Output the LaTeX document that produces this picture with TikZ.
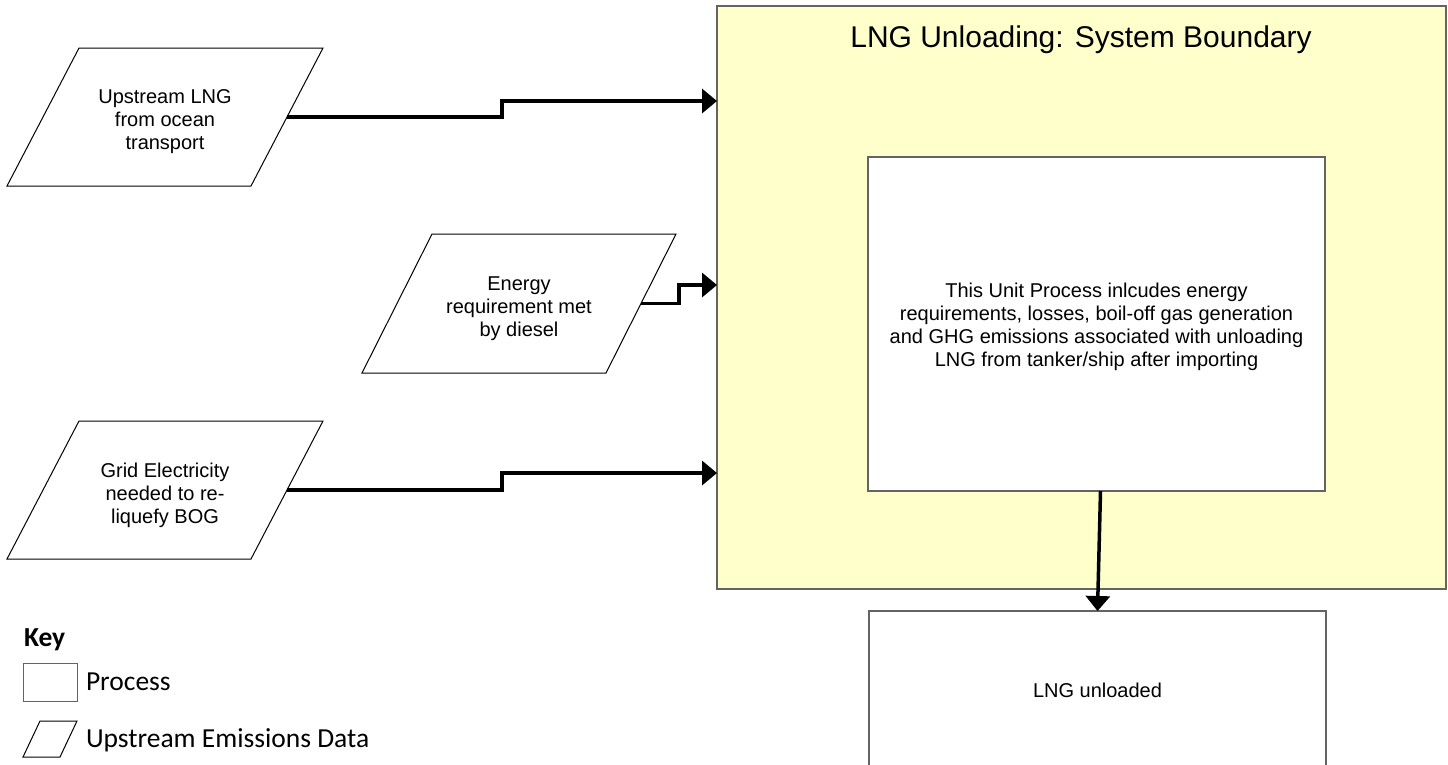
\documentclass[tikz,border=0pt]{standalone}
\usepackage{fontspec}
\setmainfont{Liberation Sans}
\newfontfamily\keyfont{Carlito}
\usetikzlibrary{arrows.meta,calc}
\definecolor{sbfill}{RGB}{255,255,204}
\definecolor{boxline}{RGB}{100,100,100}
\begin{document}
\begin{tikzpicture}[x=1pt,y=-1pt,
  every node/.style={inner sep=0pt, outer sep=0pt},
  txt/.style={font=\fontsize{20}{23}\selectfont, align=center, text=black},
  parabox/.style={minimum width=316pt, minimum height=138pt},
  paraline/.style={draw=black, line width=1pt, line join=miter},
  procbox/.style={draw=boxline, line width=1.2pt, fill=white},
  conn/.style={line width=3.5pt, -{Triangle[length=15pt,width=24pt]}},
  keytxt/.style={font=\keyfont\fontsize{27.5}{33}\selectfont, anchor=west}
]
\useasboundingbox (0,0) rectangle (1448,764);
\clip (0,0) rectangle (1448,764);

% system boundary
\node[draw=boxline, line width=1.2pt, fill=sbfill, minimum width=729pt, minimum height=583pt] (sb) at (1081.5,297.5) {};
\node[font=\fontsize{30}{34}\selectfont, anchor=base] (title) at (1081,47) {LNG Unloading: System Boundary};

% inner process
\node[procbox, minimum width=457pt, minimum height=334pt] (inner) at (1096.5,324) {};
\node[txt] (innertxt) at ([yshift=-3pt]inner.center)
  {This Unit Process inlcudes energy\\requirements, losses, boil-off gas generation\\and GHG emissions associated with unloading\\LNG from tanker/ship after importing};

% output
\node[procbox, minimum width=457pt, minimum height=158pt] (out) at (1097.5,690) {};
\node[txt] (outtxt) at (out.center) {LNG unloaded};

% upstream inputs (parallelograms)
\node[parabox] (p1) at (165,117) {};
\draw[paraline] (p1.south west) -- ([xshift=-72pt]p1.south east) -- (p1.north east) -- ([xshift=72pt]p1.north west) -- cycle;
\node[txt] (p1txt) at ([yshift=-5pt]p1.center) {Upstream LNG\\from ocean\\transport};
\coordinate (p1r) at ([xshift=-36pt]p1.east);

\node[parabox, minimum width=314pt, minimum height=139pt] (p2) at (519,303.5) {};
\draw[paraline] (p2.south west) -- ([xshift=-70pt]p2.south east) -- (p2.north east) -- ([xshift=70pt]p2.north west) -- cycle;
\node[txt] (p2txt) at ([yshift=-5pt]p2.center) {Energy\\requirement met\\by diesel};
\coordinate (p2r) at ([xshift=-35pt]p2.east);

\node[parabox] (p3) at (165,490) {};
\draw[paraline] (p3.south west) -- ([xshift=-72pt]p3.south east) -- (p3.north east) -- ([xshift=72pt]p3.north west) -- cycle;
\node[txt] (p3txt) at ([yshift=-5pt]p3.center) {Grid Electricity\\needed to re-\\liquefy BOG};
\coordinate (p3r) at ([xshift=-36pt]p3.east);

% connector targets on the boundary
\coordinate (t1) at (717,101);
\coordinate (t2) at (717,285);
\coordinate (t3) at (717,473);

\draw[conn] (p1r) -| (502,101) -- (t1);
\draw[conn] (p2r) -| (679,285) -- (t2);
\draw[conn] (p3r) -| (502,473) -- (t3);
\draw[conn] ([xshift=4pt]inner.south) -- (out.north);

% key
\node[font=\keyfont\bfseries\fontsize{27.5}{33}\selectfont, anchor=west] (keyt) at (24,640) {Key};
\node[draw=boxline, line width=1pt, minimum width=54pt, minimum height=38pt] (keyproc) at (50,682) {};
\node[keytxt] (keyproctxt) at (86,682) {Process};
\draw[black, line width=1pt] (23,757) -- (60,757) -- (77,721) -- (40,721) -- cycle;
\node[keytxt] (keyparatxt) at (86,740) {Upstream Emissions Data};
\end{tikzpicture}
\end{document}
